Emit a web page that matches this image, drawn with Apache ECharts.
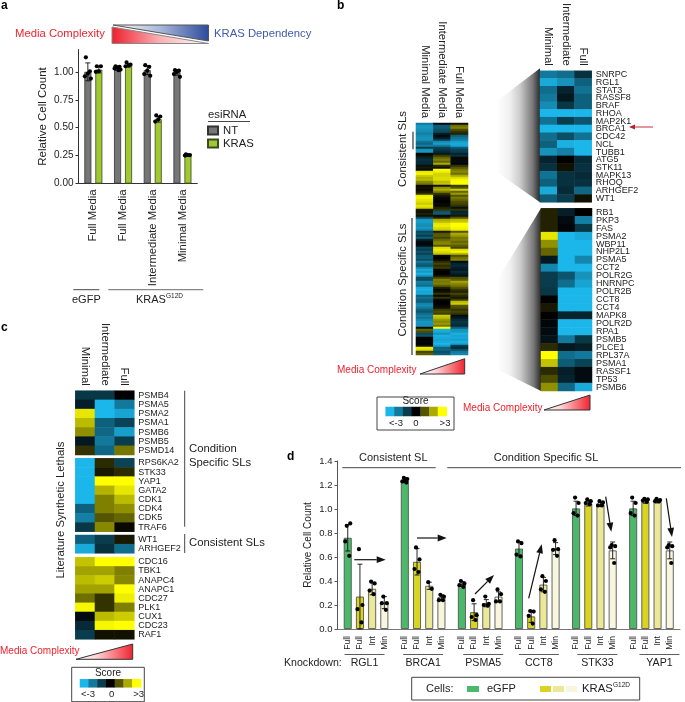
<!DOCTYPE html>
<html><head><meta charset="utf-8">
<style>html,body{margin:0;padding:0;background:#fff}#c{width:685px;height:702px}</style>
<script src="https://cdn.jsdelivr.net/npm/echarts@6/dist/echarts.min.js"></script>
</head><body><div id="c"></div>
<script>
// ---------- Panel a ----------
const aCategories = ['Full Media','Full Media','Intermediate Media','Minimal Media'];
const aNT   = [1.00,1.03,1.015,0.995];
const aKRAS = [1.02,1.06,0.575,0.25];
const aNTsd   = [0.08,0.015,0.04,0.025];
const aKRASsd = [0.03,0.015,0.025,0.005];
const aNTpts = [[1.13,1.005,0.985,0.96,0.94],[1.05,1.045,1.04,1.03,1.02,1.015],[1.06,1.045,1.01,0.98,0.965],[1.015,1.01,1.0,0.98,0.955]];
const aKRASpts = [[1.05,1.05,1.005,1.0],[1.085,1.065,1.055,1.05],[0.61,0.6,0.575,0.555],[0.26,0.255,0.255,0.25]];
const aTicks = [0,0.25,0.5,0.75,1];

// ---------- Panel b ----------
const scoreSteps = [-3,-2,-1,0,1,2,3];
const bColumns = ['Minimal Media','Intermediate Media','Full Media'];
const dColumns = ['Minimal','Intermediate','Full'];
const bRows = [
[-2.0,-0.2,0.2],[-2.5,-1.5,1.3],[-2.5,-1.5,1.5],[-2.4,-1.3,0.9],[-2.3,-1.2,0.6],[-2.1,-0.5,0.4],[-2.3,-0.2,-1.6],[-2.4,-0.4,-1.9],
[-2.4,-1.0,-2.1],[-1.9,-2.3,-2.6],[-1.7,-2.6,-2.8],[-2.1,-2.0,-2.7],[-1.0,-1.1,-1.5],[-2.4,-0.9,-1.1],[-2.5,-0.7,-1.0],[-0.1,-0.4,-0.6],
[0.2,0.7,-0.8],[-0.6,1.2,0.1],[-0.8,1.5,0.1],[-0.7,1.2,-0.2],[-0.7,2.0,-0.1],[-0.3,0.5,0.6],[0.3,0.2,1.0],[0.1,3,1.4],
[2.7,2.8,1.6],[2.9,2.5,1.3],[2.4,2.5,2.0],[2.1,2.6,2.6],[2.2,2.6,2.9],[1.6,2.2,3],[1.4,2.3,3],[0.1,0.2,0.7],
[0.2,1.7,1.0],[0.1,2.0,2.4],[0.3,1.5,1.2],[0.6,0.6,1.8],[2.8,0.3,1.0],[2.9,0.1,1.4],[2.7,-0.1,1.2],[2.6,0.0,0.9],
[2.4,0.1,0.8],[2.7,0.1,0.6],[2.5,0.4,-0.3],[0.3,0.6,0.6],[0.2,-1.4,-0.6],[0.4,-1.5,-0.7],[0.2,0.1,0.3],[-1.2,0.4,1.0],
[-2.5,2.0,2.2],[-2.6,2.2,2.4],[-2.4,2.7,3.0],[-2.3,2.8,3.0],[-2.5,2.6,2.9],[-2.2,2.4,2.8],[-1.2,0.3,1.0],[-1.4,1.0,2.0],
[-1.0,1.1,1.8],[-1.6,0.8,1.4],[-0.6,1.2,1.5],[-0.2,1.5,1.2],[-0.1,1.6,1.4],[-0.3,1.0,1.1],[-1.2,2.6,0.8],[-1.0,2.8,2.6],
[-1.4,2.6,2.9],[-1.1,2.3,2.2],[-1.5,0.1,0.9],[-1.6,0,1.3],[-1.3,0.1,1.5],[-2.0,0.5,-0.2],[-1.6,0.8,-0.6],[-1.4,0.5,-0.7],
[-2.2,0.7,-0.5],[-2.8,0.1,-0.4],[-2.5,0,-0.7],[-2.9,0,-0.5],[-2.4,0.2,-0.3],[-1.3,0.8,0.9],[-1.2,1.5,1.1],[-2.1,1.4,1.9],
[-2.0,1.5,1.6],[-1.8,1.1,1.4],[-2.8,0.4,1.0],[-2.9,0.1,0.6],[-2.7,0.2,0.4],[-2.8,0.6,0.8],[-1.6,0.1,0.5],[-1.9,0.6,0.3],
[-1.6,0.1,0.7],[-1.5,0,2.2],[-2.2,0,2.4],[-2.3,0.1,1.0],[-2.0,0.2,0.9],[-1.6,0.7,0.6],[-1.4,0.9,0.8],[-1.8,0.7,0.6],
[-2.1,2.4,-0.2],[-1.9,2.2,-0.4],[-2.2,1.8,-0.7],[-2.5,1.6,-0.9],[-2.4,1.8,-0.8],[-2.4,1.4,-0.7],[-0.2,3,-1.6],[1.2,-2.9,-2.4],
[0.9,-2.8,-2.5],[-1.2,-2.4,-2.9],[-1.4,-2.9,-2.7],[0,-2.8,-2.8],[0,-2.7,-2.6],[-0.1,-2.8,-2.9],[0,-3,-2.7],[0.2,-2.6,-1.0],
[2.8,-1.6,-0.7],[2.6,-1.7,-1.3],[0.8,-1.3,-2.0],[1.1,-1.5,-2.2]];
const b1Genes = ['SNRPC','RGL1','STAT3','RASSF8','BRAF','RHOA','MAP2K1','BRCA1','CDC42','NCL','TUBB1','ATG5','STK11','MAPK13','RHOQ','ARHGEF2','WT1'];
const b1Rows = [[-2.0,-1.8,-0.8],[-2.8,-2.4,-1.6],[-1.8,-0.6,-1.9],[-2,-0.4,-1.6],[-2.3,-0.9,-1.6],[-3,-3,-3],[-1.9,-1,-1.4],[-3,-3,-3],[-1.8,-1.3,-1.9],[-1.6,-2.9,-3],[-2.4,-2.1,-3],[-0.6,0,-0.7],[-0.8,0.2,-0.8],[-1.9,-0.8,-0.7],[-1.6,-0.8,-0.8],[-2.8,-0.7,-1.7],[-1.5,-1,0.2]];
const b2Genes = ['RB1','PKP3','FAS','PSMA2','WBP11','NHP2L1','PSMA5','CCT2','POLR2G','HNRNPC','POLR2B','CCT8','CCT4','MAPK8','POLR2D','RPA1','PSMB5','PLCE1','RPL37A','PSMA1','RASSF1','TP53','PSMB6'];
const b2Rows = [[0.4,-0.5,0],[0.4,-0.2,-2.1],[0.4,-0.1,-0.9],[2.7,-3,-2.8],[1.7,-3,-3],[1.2,-3,-3],[-0.4,-3,-2.2],[-2.2,-3,-3],[-1,-1.4,-2.4],[-1,-1.8,-2.7],[-0.9,-3,-3],[0,-3,-3],[0.3,-3,-3],[0,-0.6,-0.6],[-0.1,-3,-3],[-0.2,-3,-3],[-0.3,-2,-0.9],[0.5,-0.4,-0.5],[3,-1.8,-2],[2.3,-1.5,-1.1],[0.5,-0.5,-0.2],[0.9,-0.6,-0.2],[1.7,-1.7,-2.8]];

// ---------- Panel c ----------
const c1Genes = ['PSMB4','PSMA5','PSMA2','PSMA1','PSMB6','PSMB5','PSMD14'];
const c1Rows = [[-0.9,-0.9,0],[-0.5,-3,-2],[2.7,-3,-2.7],[2.2,-1.6,-1.1],[1.7,-1.7,-2.6],[-0.4,-2,-1],[0.6,-1.7,1.4]];
const c2Genes = ['RPS6KA2','STK33','YAP1','GATA2','CDK1','CDK4','CDK5','TRAF6'];
const c2Rows = [[-3,0.5,-1.1],[-3,0.3,0.5],[-3,3,3],[-3,2.1,2.7],[-3,1.5,2.2],[-1.6,1.5,1.7],[-2.1,1,1.2],[-0.9,1.6,0.1]];
const c3Genes = ['WT1','ARHGEF2'];
const c3Rows = [[-1.6,-1,0.3],[-2.8,-0.8,-1.8]];
const c4Genes = ['CDC16','TBK1','ANAPC4','ANAPC1','CDC27','PLK1','CUX1','CDC23','RAF1'];
const c4Rows = [[2.3,3,3],[1.9,1.9,1.5],[2.2,2.4,1.6],[1.9,1.9,3],[1.3,0.6,2.8],[2.9,0.6,1.5],[-0.2,2.2,2.4],[-0.7,2.9,3],[-1,0.2,0.2]];

// ---------- Panel d ----------
const dGenes = ['RGL1','BRCA1','PSMA5','CCT8','STK33','YAP1'];
const dBarLabels = ['Full','Full','Int','Min'];
const dEGFP    = [0.76,1.24,0.375,0.67,1.005,1.005];
const dFull    = [0.27,0.56,0.14,0.105,1.045,1.06];
const dInt     = [0.335,0.36,0.215,0.37,1.04,1.06];
const dMin     = [0.22,0.265,0.27,0.67,0.655,0.655];
const dEGFPsd  = [0.11,0.02,0.02,0.06,0.06,0.06];
const dFullsd  = [0.27,0.11,0.07,0.05,0.02,0.012];
const dIntsd   = [0.05,0.03,0.03,0.06,0.02,0.01];
const dMinsd   = [0.05,0.02,0.04,0.05,0.07,0.07];
const dEGFPpts = [[0.86,0.88,0.73,0.61],[1.26,1.25,1.23,1.22,1.24],[0.4,0.38,0.365,0.35],[0.73,0.715,0.62,0.605],[1.095,1.05,0.965,0.945],[1.095,1.05,0.965,0.945]];
const dFullpts = [[0.665,0.2,0.165,0.055],[0.68,0.58,0.5,0.475],[0.24,0.115,0.1,0.075],[0.15,0.145,0.11,0.045],[1.08,1.065,1.05,1.04],[1.085,1.08,1.07,1.06]];
const dIntpts  = [[0.395,0.38,0.32,0.29],[0.39,0.335],[0.27,0.21,0.2,0.195],[0.44,0.4,0.33,0.31],[1.065,1.055,1.03,1.03],[1.085,1.075,1.065,1.065]];
const dMinpts  = [[0.27,0.215,0.215,0.16],[0.285,0.27,0.24,0.24],[0.33,0.29,0.23,0.23],[0.74,0.665,0.66,0.61],[0.7,0.69,0.68,0.55],[0.7,0.69,0.68,0.55]];

// ---------- layout / helpers ----------
const FONT = '"Liberation Sans",Arial,sans-serif';
const INK = '#222';
const RED = '#f0222e';
const grid=[],xAxis=[],yAxis=[],series=[],graphic=[],heatIdx=[];

function addAxes(g,x,y){grid.push(g);x.gridIndex=y.gridIndex=grid.length-1;xAxis.push(x);yAxis.push(y);return grid.length-1;}

function heat(rect,rows,rowNames,colNames){
  const gi=addAxes({left:rect[0],top:rect[1],width:rect[2],height:rect[3]},
   {type:'category',data:colNames||['A','B','C'],position:'top',axisLine:{show:false},axisTick:{show:false},
    splitLine:{show:false},splitArea:{show:false},
    axisLabel:{show:!!colNames,rotate:90,interval:0,margin:5,fontSize:11.3,color:INK,fontFamily:FONT}},
   {type:'category',inverse:true,position:'right',data:rowNames||rows.map((r,i)=>String(i)),axisLine:{show:false},axisTick:{show:false},
    splitLine:{show:false},splitArea:{show:false},
    axisLabel:{show:!!rowNames,interval:0,margin:4,fontSize:9,lineHeight:9,color:INK,fontFamily:FONT}});
  const data=[];rows.forEach((r,i)=>r.forEach((v,j)=>data.push([j,i,v])));
  heatIdx.push(series.length);
  series.push({type:'heatmap',xAxisIndex:gi,yAxisIndex:gi,data,itemStyle:{borderWidth:0},emphasis:{disabled:true},silent:true,progressive:0});
}
function T(x,y,text,size,color,o){o=o||{};
  graphic.push({type:'text',x,y,rotation:o.rot?Math.PI/2:0,z:o.z||20,silent:true,
    style:{x:0,y:0,text,fontSize:size,fontFamily:FONT,fontWeight:o.bold?'bold':'normal',fill:color||INK,
    align:o.align||'left',verticalAlign:'middle'}});}
function L(x1,y1,x2,y2,color,w){graphic.push({type:'line',z:20,silent:true,shape:{x1,y1,x2,y2},style:{stroke:color||'#333',lineWidth:w||1}});}
function P(points,fill,stroke,w,z){graphic.push({type:'polygon',z:z===undefined?5:z,silent:true,shape:{points},style:{fill,stroke:stroke||'none',lineWidth:w||0}});}
function R(x,y,w,h,fill,stroke){graphic.push({type:'rect',z:15,silent:true,shape:{x,y,width:w,height:h},style:{fill,stroke:stroke||'none',lineWidth:stroke?1:0}});}
function grad(stops){return {type:'linear',x:0,y:0,x2:1,y2:0,global:false,colorStops:stops.map(s=>({offset:s[0],color:s[1]}))};}
function arrow(x1,y1,x2,y2){
  const a=Math.atan2(y2-y1,x2-x1),len=9,hw=3.4;
  const bx=x2-len*Math.cos(a),by=y2-len*Math.sin(a);
  L(x1,y1,bx,by,'#111',1.2);
  P([[x2,y2],[bx-hw*Math.sin(a),by+hw*Math.cos(a)],[bx+hw*Math.sin(a),by-hw*Math.cos(a)]],'#111','none',0,21);
}
function complexity(x1,x2,yb,yt){
  P([[x1,yb],[x2,yb],[x2,yt]],grad([[0,'#ffffff'],[0.35,'#ffd8da'],[1,RED]]),'#333',1);
}
function scoreBox(bx,by,bw,bh,scoreY,cx,cy,cw,ch,labelY,xs){
  R(bx,by,bw,bh,'none','#444');
  T(bx+bw/2,scoreY,'Score',10,INK,{align:'center'});
  heat([cx,cy,cw,ch],[scoreSteps],null,null);
  xAxis[xAxis.length-1].data=scoreSteps.map(String);
  T(xs[0],labelY,'<-3',9.5,INK,{align:'center'});
  T(xs[1],labelY,'0',9.5,INK,{align:'center'});
  T(xs[2],labelY,'>3',9.5,INK,{align:'center'});
}
// dots and error bars drawn through the axis scale
function whiskers(gi,cats,offsets,means,sds,pts,jit){
  const rows=[];means.forEach((arr,s)=>arr.forEach((m,c)=>rows.push([c,s,m,sds[s][c]])));
  series.push({type:'custom',xAxisIndex:gi,yAxisIndex:gi,z:5,silent:true,clip:false,
    encode:{x:0,y:2},data:rows,
    renderItem(params,api){
      const c=api.value(0),s=api.value(1),m=api.value(2),sd=api.value(3);
      const base=api.coord([c,m]);const x=base[0]+offsets[s];
      const yU=api.coord([c,m+sd])[1],yD=api.coord([c,Math.max(m-sd,0)])[1];
      const ls={stroke:'#111',lineWidth:0.9};
      const kids=[
       {type:'line',shape:{x1:x,y1:yU,x2:x,y2:yD},style:ls},
       {type:'line',shape:{x1:x-2.5,y1:yU,x2:x+2.5,y2:yU},style:ls},
       {type:'line',shape:{x1:x-2.5,y1:yD,x2:x+2.5,y2:yD},style:ls}];
      pts[s][c].forEach((v,k)=>{
        kids.push({type:'circle',shape:{cx:x+jit[k%jit.length],cy:api.coord([c,v])[1],r:2.1},style:{fill:'#000'}});
      });
      return {type:'group',children:kids};
    }});
}

// ---------- Panel a chart ----------
const ga=addAxes({left:78.5,top:49.5,width:118.8,height:134},
 {type:'category',data:aCategories,axisLine:{lineStyle:{color:'#333'}},axisTick:{alignWithLabel:true,length:2,lineStyle:{color:'#333'}},
  axisLabel:{interval:0,rotate:90,margin:6,fontSize:11.3,color:INK,fontFamily:FONT}},
 {type:'value',min:0,max:1.2,name:'Relative Cell Count',nameLocation:'middle',nameGap:30,
  nameTextStyle:{fontSize:11.5,color:INK,fontFamily:FONT},splitLine:{show:false},
  axisLine:{show:true,lineStyle:{color:'#333'}},axisTick:{show:true,length:3,customValues:aTicks,lineStyle:{color:'#333'}},
  axisLabel:{customValues:aTicks,formatter:v=>v.toFixed(2),fontSize:10,margin:5,color:INK,fontFamily:FONT}});
series.push({name:'NT',type:'bar',xAxisIndex:ga,yAxisIndex:ga,data:aNT,barWidth:7,barGap:'57%',silent:true,itemStyle:{color:'#767676',borderColor:'#333',borderWidth:0.8}});
series.push({name:'KRAS',type:'bar',xAxisIndex:ga,yAxisIndex:ga,data:aKRAS,barWidth:7,barGap:'57%',silent:true,itemStyle:{color:'#a0c832',borderColor:'#3c4a20',borderWidth:0.8}});
whiskers(ga,aCategories,[-5.5,5.5],[aNT,aKRAS],[aNTsd,aKRASsd],[aNTpts,aKRASpts],[-2,2,0,-3,3,1]);

// ---------- Panel b heatmaps ----------
heat([416,123,52,232],bRows,null,bColumns);
heat([540,68.3,51.7,134],b1Rows,b1Genes,dColumns);
heat([541,208.3,51,182.7],b2Rows,b2Genes,null);
// ---------- Panel c heatmaps ----------
heat([75.3,390.7,59,64.3],c1Rows,c1Genes,dColumns);
heat([75.3,458.3,59,73.4],c2Rows,c2Genes,null);
heat([75.3,535,59,18.3],c3Rows,c3Genes,null);
heat([75.3,557.3,59,82],c4Rows,c4Genes,null);
// score legends
scoreBox(377,397,77,33,401.5,385.7,407,61,9,423,[396,416,445]);
scoreBox(71.7,667.3,72.6,34.4,673.3,80,679.3,61,8,694,[88,111.7,138.7]);

// ---------- Panel d chart ----------
const geneNudge = [-1.5,0,3,1.5,3,8];
const gd=addAxes({left:337.5,top:461,width:342.5,height:168},
 {type:'category',data:dGenes,axisLine:{lineStyle:{color:'#777',width:1}},axisTick:{show:false},
  axisLabel:{show:false}},
 {type:'value',min:0,max:1.4,interval:0.2,name:'Relative Cell Count',nameLocation:'middle',nameGap:24,
  nameTextStyle:{fontSize:10,color:INK,fontFamily:FONT},splitLine:{show:false},
  axisLine:{show:true,lineStyle:{color:'#555'}},axisTick:{show:true,length:3,lineStyle:{color:'#555'}},
  axisLabel:{formatter:v=>v.toFixed(1),fontSize:9.5,margin:5,color:INK,fontFamily:FONT}});
const dCols=[['eGFP',dEGFP,'#4cb96a'],['KRAS Full',dFull,'#d9d324'],['KRAS Int',dInt,'#ebe898'],['KRAS Min',dMin,'#f8f6dc']];
dCols.forEach(c=>series.push({name:c[0],type:'bar',xAxisIndex:gd,yAxisIndex:gd,data:c[1],barWidth:8,barGap:'52.5%',silent:true,
  itemStyle:{color:c[2],borderColor:'#555',borderWidth:0.9}}));
whiskers(gd,dGenes,[-18.3,-6.1,6.1,18.3],[dEGFP,dFull,dInt,dMin],[dEGFPsd,dFullsd,dIntsd,dMinsd],[dEGFPpts,dFullpts,dIntpts,dMinpts],[-1,2.5,-2.5,1.5,0]);
// rotated bar labels, group rule and gene name under each group
series.push({type:'custom',xAxisIndex:gd,yAxisIndex:gd,silent:true,clip:false,encode:{x:0,y:1},
  data:dGenes.map((g,i)=>[i,0]),
  renderItem(params,api){
    const i=api.value(0);const p=api.coord([i,0]);const kids=[];
    [-18.3,-6.1,6.1,18.3].forEach((o,k)=>kids.push({type:'text',x:p[0]+o,y:p[1]+7,rotation:Math.PI/2,
      style:{x:0,y:0,text:dBarLabels[k],fontSize:8.6,fontFamily:FONT,fill:INK,align:'right',verticalAlign:'middle'}}));
    const cx=p[0]+geneNudge[i];
    kids.push({type:'line',shape:{x1:cx-20,y1:p[1]+25.5,x2:cx+20,y2:p[1]+25.5},style:{stroke:'#333',lineWidth:0.8}});
    kids.push({type:'text',x:cx,y:p[1]+34,style:{x:0,y:0,text:dGenes[i],fontSize:10.6,fontFamily:FONT,fill:INK,align:'center',verticalAlign:'middle'}});
    return {type:'group',children:kids};
  }});

// ---------- annotations ----------
[['a',1,6],['b',337,6],['c',1,328],['d',287,457]].forEach(p=>T(p[1],p[2],p[0],12,'#000',{bold:true}));

// banner
T(15,34,'Media Complexity',11.3,RED);
T(214,34,'KRAS Dependency',11.3,'#3f5bae');
P([[112,27],[112,43.5],[208.5,43.5]],grad([[0,'#ee1f2d'],[0.5,'#fbb2b6'],[1,'#ffffff']]),'#888',1);
P([[113,25],[208.5,25],[208.5,41]],grad([[0,'#ffffff'],[0.5,'#a9b6d9'],[1,'#2b4a9b']]),'#555',1);
// legend text for panel a
T(208,115,'esiRNA',11.3,INK);L(208,121.5,250,121.5,'#333',0.9);
// panel a bottom group rules
L(73.3,289.7,99.3,289.7,'#333',0.9);L(108.3,289.7,203.3,289.7,'#888',1.2);
T(72,300,'eGFP',11,INK);
T(136,300,'KRAS',11,INK);T(166,296,'G12D',6.5,INK);

// panel b side
const shade=[[0,'#ffffff'],[0.4,'#ffffff'],[0.58,'#f0f0f0'],[0.72,'#cccccc'],[0.9,'#777777'],[1,'#2a2a2a']];
P([[468,123],[540,68.3],[540,202.3],[468,152]],grad(shade),'none',0,1);
P([[468,328],[541,208.3],[541,391],[468,355]],grad(shade),'none',0,1);
T(403,149,'Consistent SLs',11.3,INK,{rot:true,align:'center'});
T(403,280,'Condition Specific SLs',11.3,INK,{rot:true,align:'center'});
L(413,131.7,413,149.3,'#666',1.6);L(412,218,412,355,'#666',1.6);
T(337,370,'Media Complexity',10,RED);
complexity(420,464.7,374,358.7);
T(463,408,'Media Complexity',10,RED);
complexity(544,590,410,395);
L(653,127,634,127,'#c23040',1);P([[629,127],[635,124.5],[635,129.5]],'#b5202f','none',0,21);

// panel c side
T(61,510,'Literature Synthetic Lethals',11.3,INK,{rot:true,align:'center'});
L(184.7,390.7,184.7,526.7,'#444',1);L(184.7,534,184.7,553,'#444',1);
T(189,449,'Condition',11.3);T(189,463,'Specific SLs',11.3);
T(189,543,'Consistent SLs',11.3);
T(0,651.7,'Media Complexity',10,RED);
complexity(76,132.7,659.3,644);

// panel d header + arrows + legend
T(393.3,458,'Consistent SL',11,INK,{align:'center'});
T(546,458,'Condition Specific SL',11,INK,{align:'center'});
L(342.3,467.7,435.7,467.7,'#444',1);L(447.3,467.7,681,467.7,'#444',1);
arrow(354.3,559.7,385.7,559.7);arrow(417,538,446.7,538);arrow(475,594,494,575);
arrow(528.7,598.3,541.7,544.3);arrow(605.7,496.7,611.3,531.7);arrow(666.3,498.3,672,537);
T(284,663,'Knockdown:',10.6,INK);
R(411.7,677.3,228,22.7,'none','#444');
T(426,689,'Cells:',11);
R(467,686,12,6,'#4cb96a');T(487,689,'eGFP',11);
R(540,686,11,6,'#d9d324');R(553,686,11,6,'#ebe898');R(566,686,11,6,'#f8f6dc');
T(582,689,'KRAS',11.3);T(613,685,'G12D',6.5);

// ---------- chart ----------
const chart=echarts.init(document.getElementById('c'),null,{renderer:'canvas'});
chart.setOption({
  animation:false,backgroundColor:'#fff',textStyle:{fontFamily:FONT},
  grid,xAxis,yAxis,series,graphic:{elements:graphic},
  legend:{data:['NT','KRAS'],icon:'rect',orient:'vertical',left:207,top:125,itemWidth:10,itemHeight:8,itemGap:2,selectedMode:false,
    textStyle:{fontSize:11.3,color:INK,fontFamily:FONT},padding:0},
  visualMap:{show:false,type:'continuous',min:-3,max:3,seriesIndex:heatIdx,inRange:{color:['#1bb6ea','#000000','#ffff00']}}
});
</script></body></html>
